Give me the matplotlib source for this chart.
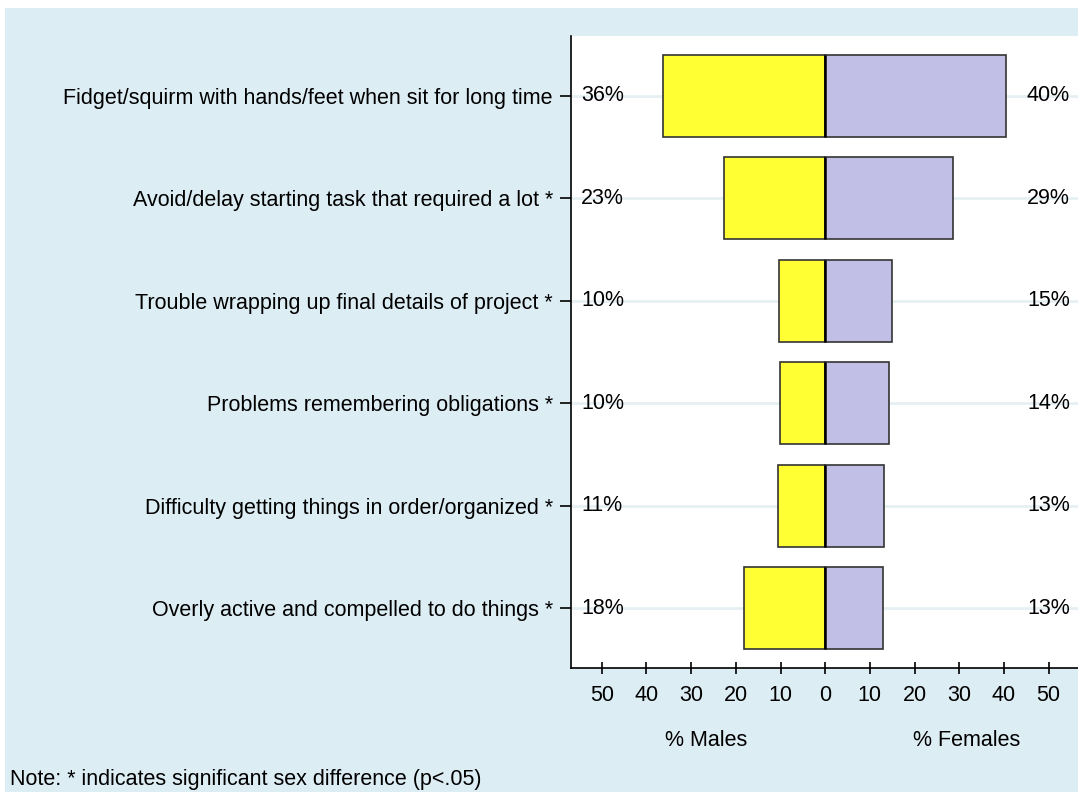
import matplotlib
matplotlib.use("Agg")
import matplotlib.pyplot as plt
from matplotlib.patches import Rectangle
import numpy as np

plt.rcParams['font.family'] = ['Liberation Sans', 'DejaVu Sans']

# data
items = ['Fidget/squirm with hands/feet when sit for long time',
         'Avoid/delay starting task that required a lot *',
         'Trouble wrapping up final details of project *',
         'Problems remembering obligations *',
         'Difficulty getting things in order/organized *',
         'Overly active and compelled to do things *']
males = [36.3, 22.7, 10.4, 10.1, 10.6, 18.1]
females = [40.4, 28.6, 14.9, 14.3, 13.2, 13.0]
xticks = [-50, -40, -30, -20, -10, 0, 10, 20, 30, 40, 50]

bg = '#ddedf4'
yellow = '#ffff33'
lav = '#c1bfe5'
edge = '#333333'
fs = 15.5
W, H = 1078, 792

fig = plt.figure(figsize=(W / 100, H / 100), dpi=100, facecolor='white')
fig.patches.append(Rectangle((5 / W, 0), 1, (H - 8) / H, transform=fig.transFigure,
                             facecolor=bg, edgecolor='none', zorder=-10))

ax = fig.add_axes([571 / W, (H - 668) / H, (W - 571) / W, (668 - 36) / H])
ax.set_facecolor('white')

pos = np.arange(1, len(items) + 1)
for p in pos:
    ax.axhline(p, color='#e6f0f3', lw=2, zorder=0)

ax.barh(pos, -np.array(males), height=0.8, color=yellow, edgecolor=edge, lw=1.2, zorder=2)
ax.barh(pos, females, height=0.8, color=lav, edgecolor=edge, lw=1.2, zorder=2)
ax.vlines(np.zeros(len(pos)), pos - 0.4, pos + 0.4, color='black', lw=1.8, zorder=3)

for p, m, f in zip(pos, males, females):
    ax.text(-54.6, p, f"{round(m)}%", ha='left', va='center', fontsize=fs, zorder=4)
    ax.text(54.8, p, f"{round(f)}%", ha='right', va='center', fontsize=fs, zorder=4)

ax.set_xlim(-56.9, 56.6)
ax.set_ylim(6.585, 0.415)
ax.set_yticks(pos)
ax.set_yticklabels(items, fontsize=fs)
ax.set_xticks(xticks)
ax.set_xticklabels([str(abs(t)) for t in xticks], fontsize=fs)
ax.tick_params(axis='y', direction='out', length=8, width=1.2, pad=5)
ax.tick_params(axis='x', direction='inout', length=9, width=1.2, pad=8)

for s in ['top', 'right']:
    ax.spines[s].set_visible(False)
for s in ['left', 'bottom']:
    ax.spines[s].set_linewidth(1.2)

tr = ax.get_xaxis_transform()
ax.text(-26.6, -0.115, '% Males', transform=tr, ha='center', va='center', fontsize=fs)
ax.text(31.7, -0.115, '% Females', transform=tr, ha='center', va='center', fontsize=fs)

fig.text(10 / W, (H - 780) / H, 'Note: * indicates significant sex difference (p<.05)',
         ha='left', va='center', fontsize=fs)

fig.savefig('out.png', dpi=100, facecolor='white')
